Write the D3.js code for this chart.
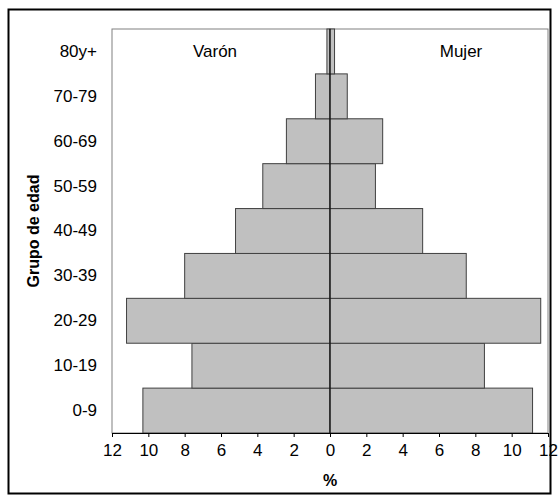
<!DOCTYPE html>
<html><head><meta charset="utf-8">
<script src="https://cdn.jsdelivr.net/npm/d3@7"></script>
<style>body{margin:0;background:#fff}text{font-family:Arial,"Liberation Sans",sans-serif}</style>
</head><body><svg id="c" width="558" height="496"></svg>
<script>
const categories = ["0-9","10-19","20-29","30-39","40-49","50-59","60-69","70-79","80y+"];
const varon = [10.3,7.6,11.2,8.0,5.2,3.7,2.4,0.8,0.17];
const mujer = [11.15,8.5,11.6,7.5,5.1,2.5,2.9,0.95,0.25];
const tickVals = [-12,-10,-8,-6,-4,-2,0,2,4,6,8,10,12];

const svg = d3.select("#c");
svg.append("rect").attr("x",8.5).attr("y",9.5).attr("width",542).attr("height",484)
  .attr("fill","none").attr("stroke","#000").attr("stroke-width",2);
const L=112,R=548,T=29,B=433;
const x = d3.scaleLinear().domain([-12,12]).range([L,R]);
const y = d3.scaleBand().domain(categories).range([B,T]).padding(0);
svg.append("rect").attr("x",L).attr("y",T).attr("width",R-L).attr("height",B-T)
  .attr("fill","none").attr("stroke","#808080");
const g = svg.append("g");
categories.forEach((c,i)=>{
  g.append("rect").attr("x",x(-varon[i])).attr("y",y(c)).attr("width",x(0)-x(-varon[i])).attr("height",y.bandwidth())
   .attr("fill","#c0c0c0").attr("stroke","#404040");
  g.append("rect").attr("x",x(0)).attr("y",y(c)).attr("width",x(mujer[i])-x(0)).attr("height",y.bandwidth())
   .attr("fill","#c0c0c0").attr("stroke","#404040");
});
svg.append("line").attr("x1",x(0)).attr("x2",x(0)).attr("y1",T).attr("y2",B).attr("stroke","#000");
const xa = svg.append("g").attr("transform",`translate(0,${B})`)
  .call(d3.axisBottom(x).tickValues(tickVals).tickFormat(d=>Math.abs(d)).tickSize(4).tickSizeOuter(0));
xa.select(".domain").attr("stroke","#000");
xa.selectAll("text").attr("font-size",17).attr("fill","#000").attr("dy","0.95em");
const ya = svg.append("g").attr("transform",`translate(${L},0)`)
  .call(d3.axisLeft(y).tickSize(0).tickPadding(15));
ya.select(".domain").remove();
ya.selectAll("text").attr("font-size",17).attr("fill","#000");
svg.append("text").attr("x",x(0)).attr("y",486).attr("text-anchor","middle").attr("font-size",16).attr("font-weight","bold").text("%");
svg.append("text").attr("transform","translate(39,231) rotate(-90)").attr("text-anchor","middle").attr("font-size",16).attr("font-weight","bold").text("Grupo de edad");
svg.append("text").attr("x",215).attr("y",57).attr("text-anchor","middle").attr("font-size",17).text("Varón");
svg.append("text").attr("x",461).attr("y",57).attr("text-anchor","middle").attr("font-size",17).text("Mujer");
</script></body></html>
